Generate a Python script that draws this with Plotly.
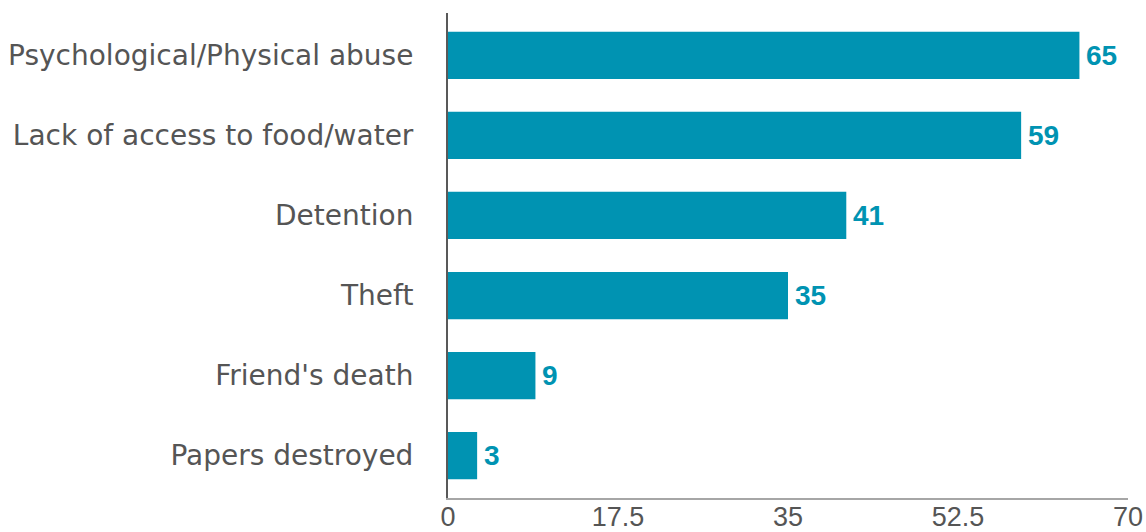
import plotly.graph_objects as go

categories = ["Psychological/Physical abuse", "Lack of access to food/water", "Detention",
              "Theft", "Friend's death", "Papers destroyed"]
values = [65, 59, 41, 35, 9, 3]
x_ticks = [0, 17.5, 35, 52.5, 70]
x_tick_labels = ["0", "17.5", "35", "52.5", "70"]

bar_color = "#0093B2"
label_font = "DejaVu Sans, Verdana, sans-serif"
num_font = "Liberation Sans, Arial, sans-serif"

fig = go.Figure(go.Bar(
    x=values,
    y=categories,
    orientation="h",
    marker=dict(color=bar_color, line=dict(width=0)),
    width=0.59,
    hoverinfo="x+y",
))

for cat, val in zip(categories, values):
    fig.add_annotation(
        x=val, y=cat, text=str(val), showarrow=False,
        xanchor="left", yanchor="middle", xshift=5,
        font=dict(family=num_font, size=28, color=bar_color, weight="bold"),
    )

fig.update_layout(
    width=1146, height=532,
    margin=dict(l=448, r=18, t=13, b=34),
    paper_bgcolor="white", plot_bgcolor="white",
    showlegend=False,
    font=dict(family=num_font, color="#555555"),
)
fig.update_xaxes(
    range=[0, 70], tickvals=x_ticks, ticktext=x_tick_labels,
    showgrid=False, zeroline=False, automargin=False,
    showline=True, linecolor="#a6a6a6", linewidth=2,
    ticks="", ticklabelstandoff=-6, tickfont=dict(family=num_font, size=27, color="#555555"),
)
fig.update_yaxes(
    categoryorder="array", categoryarray=categories[::-1],
    range=[-0.53, 5.53], automargin=False,
    showgrid=False, zeroline=False,
    showline=True, linecolor="#595959", linewidth=2,
    ticks="", ticklabelstandoff=27,
    tickfont=dict(family=label_font, size=28, color="#555555"),
)

fig.write_html("out.html")
